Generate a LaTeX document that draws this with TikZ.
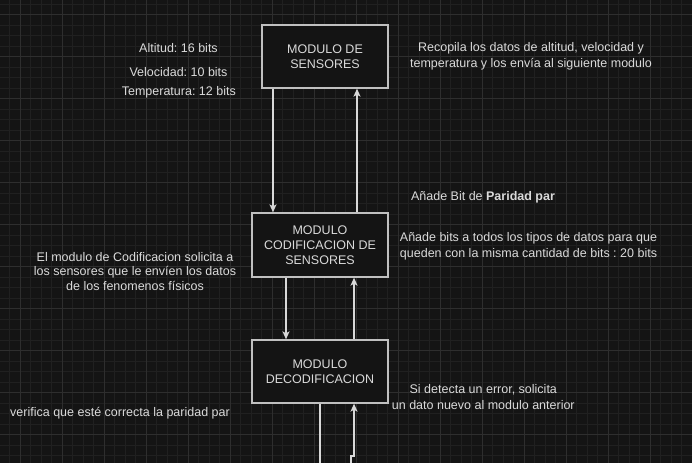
\documentclass[tikz,border=0pt]{standalone}
\usepackage{fontspec}
\setmainfont{Liberation Sans}
\frenchspacing
\usetikzlibrary{arrows.meta}
\definecolor{bgc}{HTML}{141414}
\definecolor{minorc}{HTML}{202020}
\definecolor{majorc}{HTML}{2E2E2E}
\definecolor{linec}{HTML}{D8D8D8}
\definecolor{boxc}{HTML}{C0C0C0}
\definecolor{txtc}{HTML}{DADADA}
\tikzset{
  modbox/.style={draw=boxc, fill=bgc, line width=1.3pt, align=center, text=txtc,
    font=\fontsize{12.5}{15.2}\selectfont, inner sep=0pt},
  lbl/.style={align=center, text=txtc, font=\fontsize{12.5}{15.5}\selectfont, inner sep=0pt},
  conn/.style={draw=linec, line width=1.3pt, -{Stealth[length=8pt,width=7pt,inset=2pt]}},
  plain/.style={draw=linec, line width=1.3pt},
}
\begin{document}
\begin{tikzpicture}[x=1pt,y=-1pt]
\fill[bgc] (0,0) rectangle (692,463);
\useasboundingbox (0,0) rectangle (692,463);
% grid
\foreach \i in {0,...,66} {
  \pgfmathsetmacro{\xx}{-1.0+10.5*\i}
  \draw[minorc, line width=0.6pt] (\xx,0) -- (\xx,463);
}
\foreach \i in {0,...,44} {
  \pgfmathsetmacro{\yy}{3.8+10.5*\i}
  \draw[minorc, line width=0.6pt] (0,\yy) -- (692,\yy);
}
\foreach \i in {0,...,16} {
  \pgfmathsetmacro{\xx}{20+42*\i}
  \draw[majorc, line width=0.9pt] (\xx,0) -- (\xx,463);
}
\foreach \i in {0,...,11} {
  \pgfmathsetmacro{\yy}{14.3+42*\i}
  \draw[majorc, line width=0.9pt] (0,\yy) -- (692,\yy);
}
% boxes
\node[modbox, minimum width=126pt, minimum height=63pt] (sens) at (325,56.5) {MODULO DE\\SENSORES};
\node[modbox, minimum width=136pt, minimum height=64pt] (cod) at (320,245) {MODULO\\CODIFICACION DE\\SENSORES};
\node[modbox, minimum width=136pt, minimum height=63pt] (dec) at (320,371.5) {MODULO\\DECODIFICACION};
% connectors
\draw[conn] (sens.south -| 273,0) -- (cod.north -| 273,0);
\draw[conn] (cod.north -| 357,0) -- (sens.south -| 357,0);
\draw[conn] (cod.south -| 286,0) -- (dec.north -| 286,0);
\draw[conn] (dec.north -| 354,0) -- (cod.south -| 354,0);
\coordinate (outd) at (320,463);
\coordinate (inb) at (351,463);
\draw[plain] (dec.south -| 320,0) -- (outd);
\draw[conn] (inb) -- (351,456) -- (354,456) -- (dec.south -| 354,0);
% labels
\node[lbl] (alt) at (178.5,48) {Altitud: 16 bits};
\node[lbl] (vel) at (178.5,71.7) {Velocidad: 10 bits};
\node[lbl] (tem) at (178.8,92.3) {Temperatura: 12 bits};
\node[lbl] (reco) at (531,56.3) {Recopila los datos de altitud, velocidad y\\temperatura y los envía al siguiente modulo};
\node[lbl] (par) at (483,197.3) {Añade Bit de \textbf{Paridad par}};
\node[lbl] (bits) at (528.5,246.2) {Añade bits a todos los tipos de datos para que\\queden con la misma cantidad de bits : 20 bits};
\node[lbl, font=\fontsize{12.5}{14.7}\selectfont] (soli) at (135,271.5) {El modulo de Codificacion solicita a\\los sensores que le envíen los datos\\de los fenomenos físicos};
\node[lbl] (veri) at (120,412.7) {verifica que esté correcta la paridad par};
\node[lbl] (err) at (483.3,396.8) {Si detecta un error, solicita\\un dato nuevo al modulo anterior};
\end{tikzpicture}
\end{document}
